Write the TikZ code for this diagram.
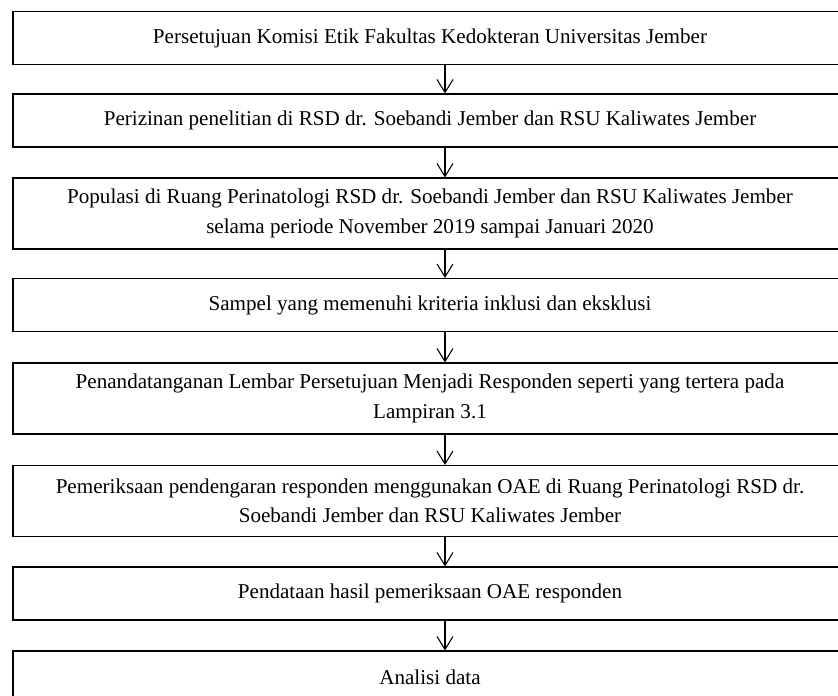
\documentclass[tikz,border=0pt]{standalone}
\usepackage{fontspec}
\setmainfont{Liberation Serif}
\usetikzlibrary{arrows.meta}

\begin{document}
\begin{tikzpicture}[
    x=0.03cm, y=-0.03cm,
    stepbox/.style={draw, line width=0.9pt, minimum width=25.02cm, minimum height=1.59cm, inner sep=0pt, align=center, font=\fontsize{18}{25}\selectfont},
    tallbox/.style={stepbox, minimum height=2.13cm},
    flow/.style={draw, line width=0.9pt, -{Straight Barb[length=0.39cm, width=0.48cm, line width=0.9pt]}}
]
\useasboundingbox (0,0) rectangle (838,695);
\clip (0,0) rectangle (838,695);
\fill[white] (0,0) rectangle (838,695);
\coordinate (ax) at (445,0);
\node[stepbox] (ethic)   at (430,38)    {Persetujuan Komisi Etik Fakultas Kedokteran Universitas Jember};
\node[stepbox] (permit)  at (430,120.5) {Perizinan penelitian di RSD dr. Soebandi Jember dan RSU Kaliwates Jember};
\node[tallbox] (popul)   at (430,213.5) {Populasi di Ruang Perinatologi RSD dr. Soebandi Jember dan RSU Kaliwates Jember\\ selama periode November 2019 sampai Januari 2020};
\node[stepbox] (sample)  at (430,305)   {Sampel yang memenuhi kriteria inklusi dan eksklusi};
\node[tallbox] (consent) at (430,398.5) {Penandatanganan Lembar Persetujuan Menjadi Responden seperti yang tertera pada\\ Lampiran 3.1};
\node[tallbox] (exam)    at (430,501)   {Pemeriksaan pendengaran responden menggunakan OAE di Ruang Perinatologi RSD dr.\\ Soebandi Jember dan RSU Kaliwates Jember};
\node[stepbox] (record)  at (430,593.5) {Pendataan hasil pemeriksaan OAE responden};
\node[stepbox] (analys)  at (430,677.5) {Analisi data};
\draw[flow] (ethic.south -| ax)   -- (permit.north -| ax);
\draw[flow] (permit.south -| ax)  -- (popul.north -| ax);
\draw[flow] (popul.south -| ax)   -- (sample.north -| ax);
\draw[flow] (sample.south -| ax)  -- (consent.north -| ax);
\draw[flow] (consent.south -| ax) -- (exam.north -| ax);
\draw[flow] (exam.south -| ax)    -- (record.north -| ax);
\draw[flow] (record.south -| ax)  -- (analys.north -| ax);
\end{tikzpicture}
\end{document}
